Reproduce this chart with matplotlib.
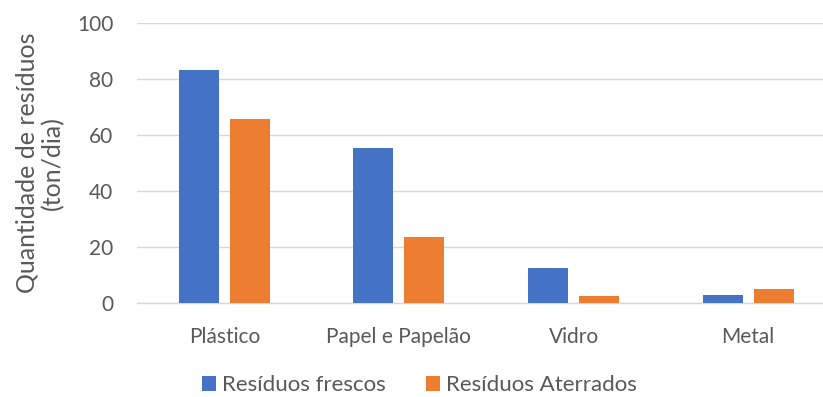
import numpy as np
import matplotlib.pyplot as plt

plt.rcParams['font.family'] = ['Lato', 'DejaVu Sans']

categorias = ['Plástico', 'Papel e Papelão', 'Vidro', 'Metal']
frescos = [83.3, 55.2, 12.5, 2.8]
aterrados = [65.8, 23.5, 2.5, 5.0]
yticks = [0, 20, 40, 60, 80, 100]

cinza = '#595959'
fig = plt.figure(figsize=(8.23, 3.97), dpi=100)
ax = fig.add_axes([137 / 823, 94 / 397, 698.5 / 823, 280.3 / 397])

x = np.arange(len(categorias))
w = 0.2286
off = 0.146
ax.bar(x - off, frescos, w, color='#4472C4', label='Resíduos frescos', zorder=3)
ax.bar(x + off, aterrados, w, color='#ED7D31', label='Resíduos Aterrados', zorder=3)

ax.set_xlim(-0.5, len(categorias) - 0.5)
ax.set_ylim(0, 100)
ax.set_yticks(yticks)
ax.set_xticks(x)
ax.set_xticklabels(categorias)
ax.yaxis.grid(True, color='#d9d9d9', linewidth=1.0, zorder=0)
for s in ['top', 'right', 'left']:
    ax.spines[s].set_visible(False)
ax.spines['bottom'].set_color('#d9d9d9')
ax.spines['bottom'].set_linewidth(1.0)
ax.tick_params(axis='both', length=0, colors=cinza, labelsize=15)
ax.tick_params(axis='y', pad=17)
ax.tick_params(axis='x', pad=17)
ax.set_ylabel('Quantidade de resíduos\n(ton/dia)', fontsize=18, color=cinza,
              labelpad=9, linespacing=1.15)

leg = fig.legend(loc='center', bbox_to_anchor=(0.51, 0.03), ncol=2, frameon=False,
                 fontsize=16, handlelength=0.6, handleheight=0.7, handletextpad=0.3,
                 columnspacing=1.8)
for t in leg.get_texts():
    t.set_color(cinza)

fig.savefig('out.png', dpi=100)
